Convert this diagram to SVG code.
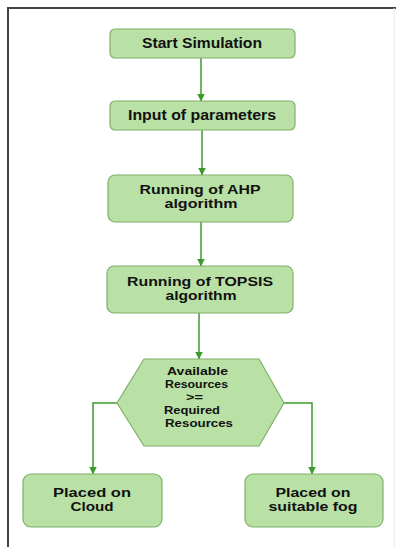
<svg xmlns="http://www.w3.org/2000/svg" width="396" height="547" viewBox="0 0 396 547">
  <style>
    .box { fill: #b9e0a5; stroke: #7fb069; stroke-width: 1.2; }
    .lbl { font-family: "Liberation Sans", Arial, sans-serif; font-weight: bold; font-size: 14px; fill: #111; }
    .md { font-size: 12.5px; }
    .sm { font-size: 11.5px; }
    .c { text-anchor: middle; }
    .edge { fill: none; stroke: #3c9a2c; stroke-width: 1.5; }
  </style>
  <defs>
    <marker id="arrow" viewBox="0 0 8 8" refX="7.5" refY="4" markerWidth="8" markerHeight="8" markerUnits="userSpaceOnUse" orient="auto">
      <path d="M0,0 L8,4 L0,8 Z" fill="#3c9a2c"/>
    </marker>
  </defs>

  <rect width="396" height="547" fill="#ffffff"/>
  <!-- frame -->
  <path d="M8,547 V8 H396" fill="none" stroke="#444" stroke-width="2"/>
  <line x1="394" y1="8" x2="394" y2="547" stroke="#e6e6e6" stroke-width="1"/>

  <g id="connectors">
    <line class="edge" x1="201" y1="58" x2="201" y2="101" marker-end="url(#arrow)"/>
    <line class="edge" x1="202" y1="130" x2="202" y2="175" marker-end="url(#arrow)"/>
    <line class="edge" x1="201" y1="222" x2="201" y2="266" marker-end="url(#arrow)"/>
    <line class="edge" x1="199" y1="313" x2="199" y2="359" marker-end="url(#arrow)"/>
    <polyline class="edge" points="117,403 93,403 93,474" marker-end="url(#arrow)"/>
    <polyline class="edge" points="284,403 312,403 312,474" marker-end="url(#arrow)"/>
  </g>

  <g id="start">
    <rect class="box" x="110" y="29" width="185" height="29" rx="5"/>
    <text class="lbl c" x="202" y="48" textLength="120" lengthAdjust="spacingAndGlyphs">Start Simulation</text>
  </g>

  <g id="input">
    <rect class="box" x="110" y="101" width="185" height="29" rx="5"/>
    <text class="lbl c" x="202" y="120" textLength="148" lengthAdjust="spacingAndGlyphs">Input of parameters</text>
  </g>

  <g id="ahp">
    <rect class="box" x="108" y="175" width="185" height="47" rx="7"/>
    <text class="lbl md c" x="200" y="194" textLength="121" lengthAdjust="spacingAndGlyphs">Running of AHP</text>
    <text class="lbl md c" x="201" y="208" textLength="73" lengthAdjust="spacingAndGlyphs">algorithm</text>
  </g>

  <g id="topsis">
    <rect class="box" x="107" y="266" width="186" height="47" rx="7"/>
    <text class="lbl md c" x="200" y="286" textLength="146" lengthAdjust="spacingAndGlyphs">Running of TOPSIS</text>
    <text class="lbl md c" x="201" y="300" textLength="71" lengthAdjust="spacingAndGlyphs">algorithm</text>
  </g>

  <g id="decision">
    <polygon class="box" points="144,359 259,359 284,403 259,446 144,446 117,403"/>
    <text class="lbl sm" x="167" y="375" textLength="61" lengthAdjust="spacingAndGlyphs">Available</text>
    <text class="lbl sm" x="165" y="388" textLength="63" lengthAdjust="spacingAndGlyphs">Resources</text>
    <text class="lbl sm" x="186" y="401" textLength="17" lengthAdjust="spacingAndGlyphs">&gt;=</text>
    <text class="lbl sm" x="164" y="414" textLength="56" lengthAdjust="spacingAndGlyphs">Required</text>
    <text class="lbl sm" x="165" y="427" textLength="68" lengthAdjust="spacingAndGlyphs">Resources</text>
  </g>

  <g id="cloud">
    <rect class="box" x="23" y="474" width="139" height="53" rx="8"/>
    <text class="lbl md c" x="92" y="497" textLength="78" lengthAdjust="spacingAndGlyphs">Placed on</text>
    <text class="lbl md c" x="92" y="511" textLength="43" lengthAdjust="spacingAndGlyphs">Cloud</text>
  </g>

  <g id="fog">
    <rect class="box" x="245" y="474" width="138" height="53" rx="8"/>
    <text class="lbl md c" x="313" y="497" textLength="75" lengthAdjust="spacingAndGlyphs">Placed on</text>
    <text class="lbl md c" x="313" y="511" textLength="89" lengthAdjust="spacingAndGlyphs">suitable fog</text>
  </g>
</svg>
